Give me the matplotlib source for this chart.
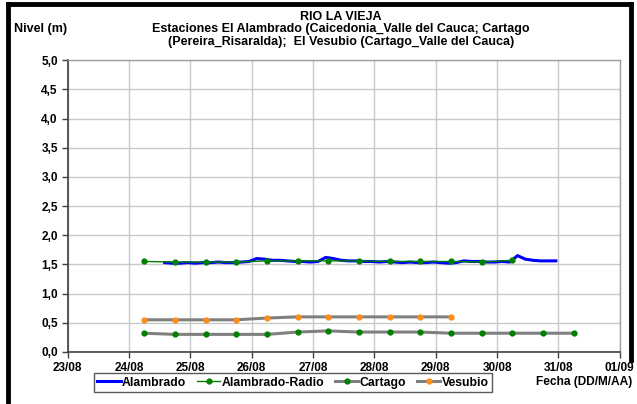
import matplotlib
matplotlib.use("Agg")
import matplotlib.pyplot as plt
import pandas as pd
from matplotlib.lines import Line2D

plt.rcParams['font.family'] = ['Liberation Sans', 'DejaVu Sans']
plt.rcParams['font.weight'] = 'bold'

# ---- data ----
alambrado_start = "2008-08-24 14:00"
alambrado_vals = [1.53, 1.52, 1.52, 1.53,
                  1.52, 1.53, 1.53, 1.54, 1.53, 1.53, 1.54, 1.55,
                  1.60, 1.59, 1.57, 1.57, 1.56, 1.55, 1.55, 1.54,
                  1.55, 1.62, 1.60, 1.57, 1.56, 1.56, 1.55, 1.55,
                  1.54, 1.55, 1.54, 1.53, 1.54, 1.53, 1.53, 1.54,
                  1.53, 1.52, 1.53, 1.56, 1.55, 1.55, 1.54, 1.54,
                  1.55, 1.54, 1.65, 1.59, 1.57, 1.56, 1.56, 1.56]
radio_start = "2008-08-24 06:00"
radio_vals = [1.55, 1.54, 1.54, 1.54, 1.56, 1.56, 1.56, 1.56, 1.55, 1.55, 1.55, 1.54, 1.57]
cartago_start = "2008-08-24 06:00"
cartago_vals = [0.32, 0.30, 0.30, 0.30, 0.30, 0.34, 0.36, 0.34, 0.34, 0.34,
                0.32, 0.32, 0.32, 0.32, 0.32]
vesubio_start = "2008-08-24 06:00"
vesubio_vals = [0.55, 0.55, 0.55, 0.55, 0.58, 0.60, 0.60, 0.60, 0.60, 0.60, 0.60]

x_tick_labels = ["23/08", "24/08", "25/08", "26/08", "27/08", "28/08",
                 "29/08", "30/08", "31/08", "01/09"]
y_tick_labels = ["0,0", "0,5", "1,0", "1,5", "2,0", "2,5", "3,0", "3,5", "4,0", "4,5", "5,0"]

t_alam = pd.date_range(alambrado_start, periods=len(alambrado_vals), freq="3h")
t_radio = pd.date_range(radio_start, periods=len(radio_vals), freq="12h")
t_cart = pd.date_range(cartago_start, periods=len(cartago_vals), freq="12h")
t_vesu = pd.date_range(vesubio_start, periods=len(vesubio_vals), freq="12h")
x_ticks = pd.date_range("2008-08-23", periods=len(x_tick_labels), freq="D")

fig = plt.figure(figsize=(6.37, 4.04), dpi=100)
ax = fig.add_axes([0.106, 0.129, 0.867, 0.722])

l1, = ax.plot(t_alam, alambrado_vals, color="#0000ff", lw=2.2, zorder=3)
l2, = ax.plot(t_radio, radio_vals, color="#008000", lw=1.0, marker="o", ms=3.5,
              mfc="#008000", mec="#008000", zorder=4)
l3, = ax.plot(t_cart, cartago_vals, color="#808080", lw=2.2, marker="o", ms=3.5,
              mfc="#008000", mec="#008000", zorder=3)
l4, = ax.plot(t_vesu, vesubio_vals, color="#808080", lw=2.2, marker="o", ms=3.5,
              mfc="#ff8c1a", mec="#ff8c1a", zorder=3)

ax.set_ylim(0, 5)
ax.set_yticks([i * 0.5 for i in range(len(y_tick_labels))])
ax.set_yticklabels(y_tick_labels)
ax.set_xlim(x_ticks[0], x_ticks[-1])
ax.set_xticks(x_ticks)
ax.set_xticklabels(x_tick_labels)
ax.tick_params(axis="both", labelsize=8.5, length=4, color="#404040", width=1, pad=3)
ax.grid(True, color="#c8c8c8", lw=1)
ax.set_axisbelow(True)
for s in ["left", "bottom"]:
    ax.spines[s].set_color("#404040")
    ax.spines[s].set_linewidth(1.2)
for s in ["top", "right"]:
    ax.spines[s].set_color("#a0a0a0")
    ax.spines[s].set_linewidth(1.0)

fs = 9.0
fig.text(0.535, 0.958, "RIO LA VIEJA", ha="center", va="center", fontsize=fs, fontweight="bold", zorder=5)
fig.text(0.535, 0.927, "Estaciones El Alambrado (Caicedonia_Valle del Cauca; Cartago",
         ha="center", va="center", fontsize=fs, fontweight="bold", zorder=5)
fig.text(0.535, 0.896, "(Pereira_Risaralda);  El Vesubio (Cartago_Valle del Cauca)",
         ha="center", va="center", fontsize=fs, fontweight="bold", zorder=5)
fig.text(0.022, 0.927, "Nivel (m)", ha="left", va="center", fontsize=fs, fontweight="bold", zorder=5)
fig.text(0.992, 0.055, "Fecha (DD/M/AA)", ha="right", va="center", fontsize=8.6, fontweight="bold", zorder=5)

leg = fig.legend([l1, l2, l3, l4], ["Alambrado", "Alambrado-Radio", "Cartago", "Vesubio"],
                 loc="center", bbox_to_anchor=(0.46, 0.053), ncol=4, frameon=True,
                 fancybox=False, edgecolor="#303030", fontsize=8.8, handlelength=1.9,
                 handletextpad=0.1, columnspacing=0.9, borderpad=0.3)
leg.get_frame().set_linewidth(1.0)

# outer black frame (left, top, right)
fig.add_artist(Line2D([0.0125, 0.0125], [0.0, 0.99], transform=fig.transFigure,
                      color="black", lw=3.5, zorder=1))
fig.add_artist(Line2D([0.0125, 0.99], [0.99, 0.99], transform=fig.transFigure,
                      color="black", lw=3.5, zorder=1))
fig.add_artist(Line2D([0.99, 0.99], [0.11, 0.99], transform=fig.transFigure,
                      color="black", lw=3.5, zorder=1))

fig.savefig("out.png", dpi=100)
